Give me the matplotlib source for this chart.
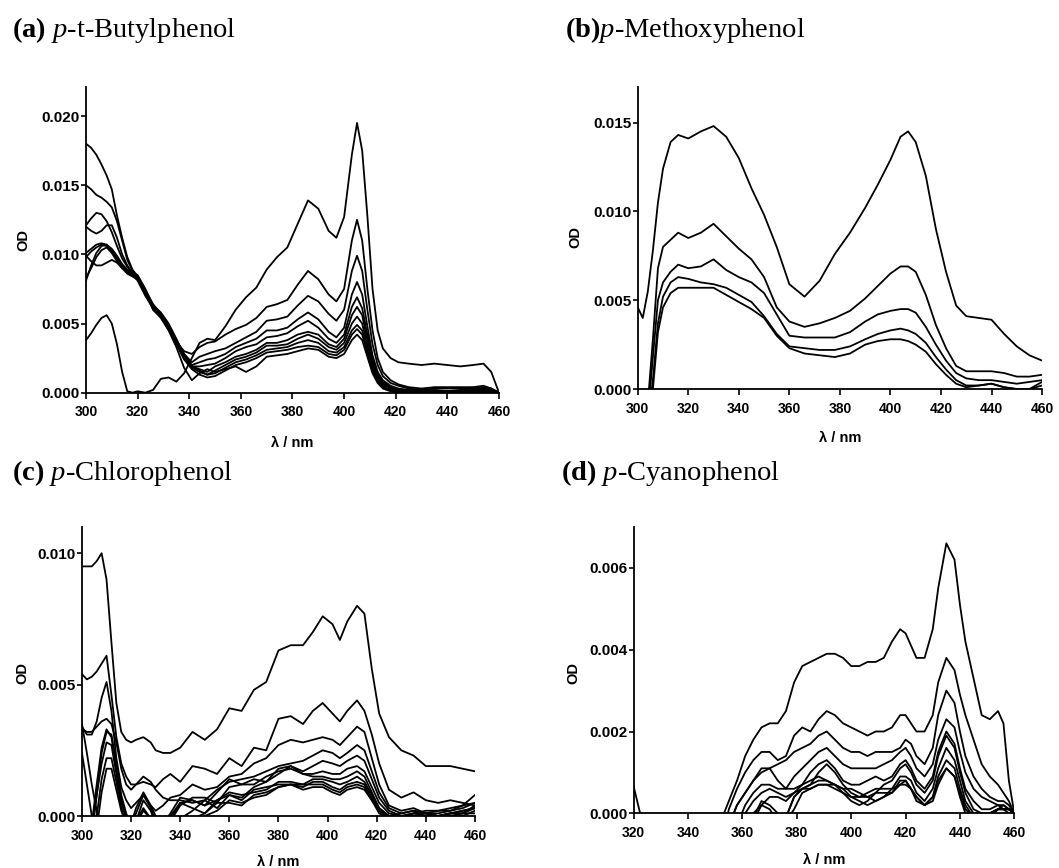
import matplotlib
matplotlib.use('Agg')
import matplotlib.pyplot as plt
from matplotlib.ticker import FormatStrFormatter, MultipleLocator

plt.rcParams['font.family'] = ['Liberation Sans', 'DejaVu Sans']
plt.rcParams['mathtext.fontset'] = 'custom'
plt.rcParams['mathtext.rm'] = 'Liberation Serif'
plt.rcParams['mathtext.it'] = 'Liberation Serif:italic'
plt.rcParams['mathtext.bf'] = 'Liberation Serif:bold'

# ---------------- data ----------------
# (a) p-t-Butylphenol
wl_a = [300, 302, 304, 306, 308, 310, 312, 314, 316, 318, 320,
        323, 326, 329, 332, 335, 338, 341, 344, 347, 350,
        354, 358, 362, 366, 370, 374, 378, 382, 386, 390, 394,
        397, 400, 403, 405, 407, 409, 411, 413, 415,
        418, 421, 425, 430, 435, 440, 445, 450, 454, 457, 460]
od_a = [
    [.0038, .0043, .0049, .0054, .0056, .0050, .0035, .0015, .0001, 0, .0001,
     0, .0002, .0010, .0011, .0008, .0014, .0025, .0036, .0039, .0038,
     .0048, .0060, .0069, .0076, .0089, .0098, .0105, .0122, .0139, .0133, .0117,
     .0112, .0127, .0172, .0195, .0175, .0128, .0075, .0045, .0032,
     .0025, .0022, .0021, .0020, .0021, .0020, .0019, .0020, .0021, .0015, 0],
    [.0180, .0177, .0172, .0165, .0157, .0147, .0128, .0112, .0098, .0089, .0084,
     .0073, .0062, .0056, .0047, .0037, .0030, .0028, .0033, .0036, .0037,
     .0042, .0046, .0049, .0054, .0062, .0064, .0067, .0078, .0088, .0082, .0071,
     .0066, .0075, .0110, .0125, .0110, .0075, .0045, .0025, .0015,
     .0009, .0006, .0004, .0003, .0004, .0004, .0004, .0004, .0005, .0003, 0],
    [.0150, .0147, .0143, .0141, .0138, .0134, .0124, .0110, .0096, .0088, .0084,
     .0074, .0064, .0057, .0048, .0038, .0028, .0022, .0026, .0028, .0030,
     .0032, .0036, .0040, .0044, .0052, .0053, .0055, .0063, .0070, .0066, .0057,
     .0052, .0060, .0088, .0099, .0088, .0060, .0035, .0020, .0012,
     .0007, .0005, .0003, .0002, .0003, .0003, .0003, .0003, .0004, .0003, 0],
    [.0121, .0126, .0130, .0129, .0124, .0116, .0106, .0097, .0091, .0087, .0083,
     .0071, .0061, .0056, .0047, .0037, .0027, .0020, .0022, .0024, .0025,
     .0028, .0033, .0036, .0039, .0045, .0045, .0047, .0053, .0058, .0053, .0044,
     .0040, .0047, .0071, .0080, .0071, .0048, .0027, .0015, .0009,
     .0005, .0003, .0002, .0001, .0002, .0001, .0002, .0003, .0003, .0002, 0],
    [.0120, .0117, .0115, .0117, .0121, .0121, .0112, .0100, .0092, .0086, .0082,
     .0072, .0060, .0055, .0047, .0038, .0028, .0019, .0019, .0020, .0021,
     .0025, .0030, .0033, .0035, .0040, .0041, .0043, .0048, .0052, .0047, .0039,
     .0036, .0042, .0062, .0069, .0061, .0042, .0024, .0013, .0008,
     .0004, .0002, .0001, .0001, .0001, .0001, .0001, .0002, .0002, .0001, 0],
    [.0101, .0104, .0107, .0108, .0107, .0103, .0097, .0092, .0088, .0085, .0081,
     .0070, .0061, .0056, .0046, .0036, .0026, .0019, .0017, .0015, .0019,
     .0022, .0026, .0028, .0031, .0036, .0036, .0038, .0042, .0044, .0042, .0035,
     .0033, .0039, .0056, .0062, .0056, .0038, .0022, .0012, .0007,
     .0003, .0002, .0001, 0, .0001, 0, .0001, .0001, .0002, .0001, 0],
    [.0099, .0095, .0092, .0092, .0094, .0096, .0094, .0090, .0086, .0084, .0082,
     .0073, .0062, .0057, .0048, .0036, .0025, .0018, .0015, .0013, .0016,
     .0020, .0024, .0026, .0029, .0034, .0034, .0035, .0039, .0042, .0039, .0033,
     .0031, .0036, .0050, .0055, .0050, .0034, .0020, .0011, .0006,
     .0003, .0001, 0, 0, .0001, .0001, 0, .0001, .0001, .0001, 0],
    [.0081, .0092, .0101, .0106, .0107, .0104, .0099, .0093, .0089, .0087, .0085,
     .0075, .0063, .0058, .0050, .0039, .0027, .0019, .0016, .0013, .0014,
     .0018, .0022, .0024, .0027, .0031, .0032, .0033, .0036, .0038, .0036, .0030,
     .0029, .0033, .0045, .0049, .0045, .0031, .0018, .0009, .0005,
     .0002, .0001, 0, 0, 0, 0, 0, 0, .0001, 0, 0],
    [.0098, .0102, .0105, .0107, .0106, .0102, .0096, .0091, .0087, .0085, .0083,
     .0072, .0062, .0056, .0047, .0035, .0024, .0017, .0013, .0011, .0012,
     .0016, .0020, .0022, .0025, .0029, .0030, .0031, .0033, .0034, .0033, .0028,
     .0027, .0031, .0042, .0046, .0042, .0029, .0016, .0008, .0004,
     .0002, 0, 0, 0, 0, 0, 0, .0001, .0001, 0, 0],
    [.0083, .0090, .0098, .0103, .0105, .0101, .0095, .0090, .0088, .0086, .0084,
     .0074, .0060, .0054, .0045, .0033, .0018, .0009, .0014, .0017, .0015,
     .0017, .0019, .0015, .0019, .0026, .0027, .0028, .0030, .0032, .0031, .0026,
     .0025, .0028, .0038, .0042, .0038, .0026, .0014, .0007, .0003,
     .0001, 0, 0, 0, 0, 0, 0, 0, 0, 0, 0],
]

# (b) p-Methoxyphenol
wl_b = [300, 302, 304, 306, 308, 310,
        313, 316, 320, 325, 330, 335, 340, 345, 350, 355, 360,
        366, 372, 378, 384, 390, 395, 400, 404, 407, 410,
        414, 418, 422, 426, 430, 435, 440, 445, 450, 455, 460]
od_b = [
    [.0046, .0040, .0055, .0078, .0105, .0124,
     .0139, .0143, .0141, .0145, .0148, .0142, .0130, .0113, .0098, .0080, .0059,
     .0052, .0061, .0076, .0088, .0102, .0115, .0129, .0142, .0145, .0139,
     .0120, .0090, .0066, .0047, .0041, .0040, .0039, .0031, .0024, .0019, .0016],
    [-.004, -.003, -.0008, .0028, .0068, .0080,
     .0084, .0088, .0085, .0088, .0093, .0086, .0079, .0073, .0063, .0046, .0038,
     .0035, .0037, .0040, .0044, .0051, .0058, .0065, .0069, .0069, .0066,
     .0053, .0036, .0023, .0013, .0010, .0010, .0010, .0009, .0007, .0007, .0008],
    [-.004, -.003, -.0015, .0018, .0050, .0060,
     .0066, .0070, .0068, .0069, .0073, .0067, .0063, .0060, .0054, .0042, .0030,
     .0029, .0029, .0029, .0032, .0038, .0042, .0044, .0045, .0045, .0043,
     .0035, .0025, .0016, .0009, .0006, .0005, .0005, .0004, .0003, .0004, .0005],
    [-.004, -.003, -.002, .0005, .0037, .0052,
     .0060, .0063, .0062, .0060, .0059, .0057, .0053, .0049, .0041, .0031, .0024,
     .0023, .0022, .0022, .0024, .0028, .0031, .0033, .0034, .0033, .0031,
     .0026, .0018, .0011, .0005, .0002, .0002, .0003, .0001, 0, 0, .0002],
    [-.004, -.003, -.002, 0, .0032, .0046,
     .0054, .0057, .0057, .0057, .0057, .0053, .0049, .0045, .0040, .0030, .0023,
     .0020, .0019, .0018, .0020, .0025, .0027, .0028, .0028, .0027, .0025,
     .0021, .0014, .0008, .0003, .0001, .0002, .0003, .0001, 0, 0, .0004],
]

# (c) p-Chlorophenol
wl_c = [300, 302, 304, 306, 308, 310, 312, 314, 316, 318, 320, 322,
        325, 328, 330, 333, 336, 340,
        345, 350, 355, 360, 365, 370, 375, 380, 385, 390,
        394, 398, 402, 405, 408, 412, 415, 418, 421,
        425, 430, 435, 440, 445, 450, 455, 460]
od_c = [
    [.0095, .0095, .0095, .0097, .0100, .0090, .0066, .0043, .0032, .0029, .0028, .0029,
     .0030, .0028, .0025, .0024, .0024, .0026,
     .0032, .0029, .0033, .0041, .0040, .0048, .0051, .0063, .0065, .0065,
     .0070, .0076, .0073, .0067, .0074, .0080, .0077, .0056, .0039,
     .0030, .0025, .0023, .0019, .0019, .0019, .0018, .0017],
    [.0054, .0052, .0053, .0055, .0058, .0061, .0046, .0030, .0020, .0015, .0012, .0012,
     .0013, .0012, .0011, .0014, .0016, .0013,
     .0019, .0018, .0016, .0022, .0019, .0026, .0025, .0037, .0038, .0035,
     .0040, .0043, .0039, .0036, .0040, .0044, .0040, .0031, .0020,
     .0010, .0007, .0009, .0006, .0005, .0006, .0005, .0004],
    [.0034, .0031, .0031, .0036, .0045, .0051, .0040, .0022, .0011, .0006, .0003, .0005,
     .0008, .0004, .0002, .0004, .0007, .0008,
     .0012, .0010, .0011, .0015, .0016, .0020, .0022, .0027, .0029, .0028,
     .0029, .0030, .0029, .0027, .0030, .0034, .0032, .0022, .0012,
     .0004, .0002, .0003, .0001, .0002, .0003, .0004, .0005],
    [.0033, .0032, .0032, .0034, .0036, .0037, .0035, .0028, .0018, .0012, .0010, .0012,
     .0015, .0013, .0010, .0007, .0006, .0006,
     .0005, .0006, .0010, .0013, .0014, .0015, .0017, .0019, .0020, .0021,
     .0023, .0025, .0024, .0022, .0024, .0027, .0025, .0017, .0009,
     .0003, .0001, .0002, .0001, 0, .0001, .0002, .0003],
    [-.002, -.0012, -.0003, .0012, .0026, .0033, .0030, .0018, .0006, 0, -.0004, .0001,
     .0008, .0003, -.0002, -.0004, -.0002, .0004,
     .0007, .0007, .0005, .0011, .0012, .0014, .0013, .0016, .0019, .0017,
     .0019, .0021, .0020, .0019, .0021, .0023, .0021, .0014, .0007,
     .0002, 0, .0001, 0, -.0001, 0, .0001, .0004],
    [-.003, -.002, -.0008, .0008, .0024, .0032, .0031, .0020, .0008, .0001, -.0003, .0003,
     .0009, .0004, 0, -.0003, .0001, .0007,
     .0006, .0004, .0009, .0014, .0012, .0012, .0015, .0017, .0018, .0016,
     .0016, .0017, .0016, .0016, .0018, .0019, .0017, .0011, .0005,
     .0001, 0, .0001, .0002, .0002, .0002, .0003, .0005],
    [-.002, -.0012, -.0004, .0008, .0020, .0028, .0027, .0016, .0005, -.0001, -.0005, -.0002,
     .0003, -.0001, -.0005, -.0004, 0, .0005,
     .0003, .0001, .0006, .0008, .0007, .0011, .0013, .0018, .0019, .0016,
     .0015, .0015, .0014, .0014, .0015, .0017, .0015, .0009, .0003,
     0, -.0001, .0001, .0001, 0, .0001, .0001, .0003],
    [-.003, -.002, -.0012, 0, .0014, .0022, .0022, .0013, .0003, -.0003, -.0005, -.0002,
     .0006, .0002, -.0003, -.0004, -.0003, -.0001,
     .0002, .0006, .0003, .0008, .0006, .0010, .0011, .0012, .0012, .0012,
     .0014, .0014, .0013, .0012, .0013, .0015, .0013, .0008, .0003,
     0, -.0001, 0, -.0001, 0, .0001, .0002, .0003],
    [-.004, -.003, -.002, -.0005, .0009, .0018, .0018, .0010, .0002, -.0003, -.0006, -.0003,
     .0002, -.0001, -.0004, -.0005, -.0004, -.0002,
     -.0001, .0001, .0005, .0005, .0004, .0008, .0009, .0011, .0012, .0011,
     .0013, .0013, .0011, .0010, .0012, .0013, .0012, .0007, .0002,
     -.0001, -.0001, 0, 0, 0, 0, 0, .0002],
    [.0035, .0024, .0012, .0002, -.0005, -.0008, -.0008, -.0008, -.0008, -.0008, -.0008, -.0008,
     -.0006, -.0004, -.0003, -.0002, -.0001, .0005,
     .0006, .0004, .0006, .0009, .0008, .0009, .0010, .0013, .0013, .0012,
     .0012, .0012, .0010, .0009, .0011, .0012, .0011, .0006, .0002,
     0, .0001, .0002, .0001, .0001, .0002, .0004, .0008],
    [.0024, .0012, 0, -.001, -.002, -.002, -.002, -.002, -.002, -.002, -.002, -.002,
     -.002, -.002, -.0015, -.001, -.0008, -.0005,
     -.0002, 0, .0002, .0006, .0005, .0007, .0008, .0011, .0012, .0010,
     .0011, .0011, .0009, .0008, .0010, .0011, .0010, .0006, .0001,
     -.0001, 0, 0, .0001, 0, .0001, .0001, .0001],
]

# (d) p-Cyanophenol
wl_d = [320, 322, 324, 340, 352,
        355, 358, 361, 364, 367, 370, 373, 376, 379, 382, 385, 388, 391, 394, 397,
        400, 403, 406, 409, 412, 415, 418,
        420, 422, 424, 427, 430, 432, 435, 438, 440, 442,
        445, 448, 451, 454, 456, 458, 460]
od_d = [
    [.00065, .0001, -.0004, -.0006, -.0002,
     .0003, .0008, .0014, .0018, .0021, .0022, .0022, .0025, .0032, .0036, .0037, .0038, .0039, .0039, .0038,
     .0036, .0036, .0037, .0037, .0038, .0042, .0045,
     .0044, .0041, .0038, .0038, .0045, .0055, .0066, .0062, .0051, .0042,
     .0033, .0024, .0023, .0025, .0022, .0008, 0],
    [-.001, -.001, -.001, -.001, -.0008,
     .0001, .0006, .0010, .0013, .0015, .0015, .0013, .0014, .0019, .0021, .0020, .0023, .0025, .0024, .0022,
     .0021, .0020, .0019, .0020, .0020, .0021, .0024,
     .0024, .0022, .0020, .0020, .0024, .0032, .0038, .0035, .0029, .0024,
     .0018, .0012, .0009, .0007, .0005, .0003, 0],
    [-.001, -.001, -.001, -.001, -.0008,
     -.0003, .0002, .0005, .0008, .0010, .0011, .0012, .0013, .0015, .0016, .0017, .0019, .0020, .0018, .0016,
     .0015, .0015, .0014, .0015, .0015, .0015, .0016,
     .0018, .0017, .0014, .0012, .0016, .0024, .0030, .0027, .0020, .0014,
     .0009, .0006, .0004, .0003, .0003, .0002, 0],
    [-.001, -.001, -.001, -.001, -.0008,
     -.0003, .0002, .0005, .0008, .0011, .0011, .0008, .0006, .0009, .0011, .0013, .0015, .0016, .0014, .0012,
     .0011, .0011, .0011, .0011, .0012, .0013, .0015,
     .0016, .0014, .0011, .0009, .0012, .0018, .0023, .0021, .0015, .0010,
     .0006, .0004, .0003, .0002, .0002, .0001, 0],
    [-.001, -.001, -.001, -.001, -.001,
     -.0006, -.0003, .0002, .0005, .0007, .0007, .0006, .0006, .0006, .0007, .0010, .0012, .0013, .0011, .0008,
     .0007, .0007, .0008, .0009, .0008, .0009, .0012,
     .0013, .0011, .0008, .0006, .0009, .0015, .0020, .0017, .0011, .0006,
     .0003, .0001, .0001, .0002, .0001, .0001, 0],
    [-.001, -.001, -.001, -.001, -.001,
     -.0008, -.0005, 0, .0003, .0005, .0006, .0005, .0004, .0005, .0006, .0007, .0010, .0012, .0010, .0007,
     .0005, .0004, .0004, .0005, .0007, .0008, .0011,
     .0012, .0010, .0007, .0005, .0008, .0014, .0019, .0016, .0010, .0005,
     .0001, 0, -.0001, .0001, .0001, 0, 0],
    [-.001, -.001, -.001, -.001, -.001,
     -.001, -.0008, -.0003, 0, .0002, .0004, .0004, .0003, .0005, .0007, .0008, .0009, .0008, .0007, .0006,
     .0006, .0005, .0004, .0003, .0004, .0006, .0009,
     .0009, .0008, .0005, .0003, .0006, .0011, .0016, .0013, .0008, .0003,
     0, 0, 0, .0001, .0001, .0001, 0],
    [-.001, -.001, -.001, -.001, -.001,
     -.001, -.001, -.0005, -.0002, .0002, .0001, -.0002, -.0001, .0004, .0006, .0007, .0008, .0008, .0007, .0006,
     .0004, .0003, .0002, .0003, .0004, .0005, .0008,
     .0008, .0006, .0004, .0002, .0004, .0009, .0013, .0011, .0006, .0002,
     -.0001, -.0001, 0, .0001, .0001, .0001, 0],
    [-.001, -.001, -.001, -.001, -.001,
     -.001, -.001, -.0005, -.0001, .0003, .0002, 0, -.0002, .0001, .0005, .0006, .0007, .0007, .0007, .0005,
     .0004, .0004, .0005, .0006, .0006, .0006, .0007,
     .0007, .0006, .0004, .0002, .0004, .0008, .0011, .0009, .0005, .0001,
     -.0001, -.0001, 0, .0001, .0002, .0001, 0],
    [-.001, -.001, -.001, -.001, -.001,
     -.001, -.001, -.001, -.001, -.0008, -.0006, -.0008, -.0001, .0004, .0006, .0006, .0007, .0007, .0006, .0005,
     .0003, .0002, .0003, .0005, .0005, .0005, .0007,
     .0008, .0006, .0003, .0002, .0003, .0007, .0011, .0009, .0004, 0,
     -.0001, -.0001, 0, .0001, .0001, .0001, 0],
]

titles = [r'$\mathbf{(a)}$ $\mathit{p}$-t-Butylphenol',
          r'$\mathbf{(b)}\mathit{p}$-Methoxyphenol',
          r'$\mathbf{(c)}$ $\mathit{p}$-Chlorophenol',
          r'$\mathbf{(d)}$ $\mathit{p}$-Cyanophenol']
x_label = 'λ / nm'
y_label = 'OD'

# ---------------- layout ----------------
W, H = 1059, 868
fig = plt.figure(figsize=(W / 100, H / 100), dpi=100)

def fx(px):
    return px / W

def fy(py):
    return 1 - py / H

panels = [
    dict(wl=wl_a, od=od_a, rect=[0.0812, 0.5476, 0.3900, 0.3522], xlim=(300, 460), ylim=(0, 0.0221), ystep=0.005,
         title_xy=(12, 37), od_xy=(23, 240), xl_xy=(292.5, 443)),
    dict(wl=wl_b, od=od_b, rect=[0.6022, 0.5518, 0.3818, 0.3480], xlim=(300, 460), ylim=(0, 0.0170), ystep=0.005,
         title_xy=(565, 37), od_xy=(575, 237), xl_xy=(840, 438)),
    dict(wl=wl_c, od=od_c, rect=[0.0774, 0.0599, 0.3711, 0.3330], xlim=(300, 460), ylim=(0, 0.0110), ystep=0.005,
         title_xy=(12, 480), od_xy=(22, 673), xl_xy=(278.5, 862)),
    dict(wl=wl_d, od=od_d, rect=[0.5984, 0.0630, 0.3594, 0.3299], xlim=(320, 460), ylim=(0, 0.0070), ystep=0.002,
         title_xy=(561, 480), od_xy=(573, 673), xl_xy=(824, 860)),
]

for p, title in zip(panels, titles):
    ax = fig.add_axes(p['rect'])
    for series in p['od']:
        ax.plot(p['wl'], series, color='black', lw=1.3, solid_joinstyle='round')
    ax.set_xlim(*p['xlim'])
    ax.set_ylim(*p['ylim'])
    ax.spines['top'].set_visible(False)
    ax.spines['right'].set_visible(False)
    ax.spines['left'].set_linewidth(1.3)
    ax.spines['bottom'].set_linewidth(1.3)
    ax.xaxis.set_major_locator(MultipleLocator(20))
    ax.yaxis.set_major_locator(MultipleLocator(p['ystep']))
    ax.yaxis.set_major_formatter(FormatStrFormatter('%.3f'))
    ax.tick_params(axis='x', direction='out', length=4, width=1.2, pad=5, labelsize=10)
    ax.tick_params(axis='y', direction='out', length=3.5, width=1.2, pad=1, labelsize=11)
    for lbl in ax.get_xticklabels() + ax.get_yticklabels():
        lbl.set_fontweight('bold')

    tx, ty = p['title_xy']
    fig.text(fx(tx), fy(ty), title, fontsize=20.5, family='Liberation Serif',
             ha='left', va='baseline')
    ox, oy = p['od_xy']
    fig.text(fx(ox), fy(oy), y_label, rotation=90, fontsize=10.5, fontweight='bold',
             ha='center', va='center')
    lx, ly = p['xl_xy']
    fig.text(fx(lx), fy(ly), x_label, fontsize=10.5, fontweight='bold',
             ha='center', va='center')

fig.savefig('out.png', dpi=100)
